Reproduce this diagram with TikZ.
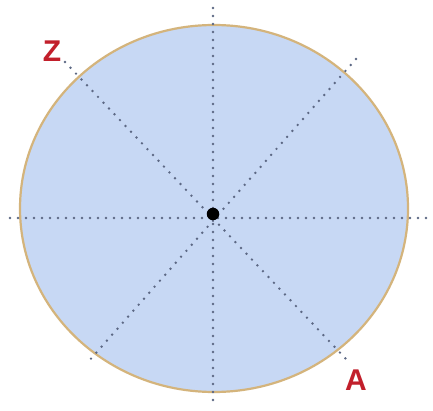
\documentclass[tikz,border=0pt]{standalone}
\usepackage{fontspec}
\setmainfont{Liberation Sans}
\begin{document}
\begin{tikzpicture}[x=1pt,y=-1pt,
  dotline/.style={draw=dotgray, line width=2.7pt, line cap=round, dash pattern=on 0pt off 8pt},
  lbl/.style={text=lblred, font=\fontsize{30}{30}\selectfont\bfseries, inner sep=0pt}]
\definecolor{fillblue}{HTML}{C7D8F4}
\definecolor{rimtan}{HTML}{D4B47C}
\definecolor{dotgray}{HTML}{5C6884}
\definecolor{lblred}{HTML}{C21F2B}
\useasboundingbox (0,0) rectangle (433,411);
\fill[white] (0,0) rectangle (433,411);
% disc
\fill[fillblue] (214,208.5) ellipse [x radius=194, y radius=183.5];
\draw[rimtan, line width=2.2pt] (214,208.5) ellipse [x radius=194, y radius=183.5];
% axes
\coordinate (hl) at (10,218);
\coordinate (hr) at (433,218);
\coordinate (vt) at (213,8);
\coordinate (vb) at (213,407);
\coordinate (zt) at (65,62);
\coordinate (ab) at (346,359);
\coordinate (nt) at (356,59);
\coordinate (sb) at (88,362);
\draw[dotline] (hl) -- (hr);
\draw[dotline] (vt) -- (vb);
\draw[dotline] (zt) -- (ab);
\draw[dotline] (nt) -- (sb);
% centre
\node[circle, fill=black, minimum size=12.5pt, inner sep=0pt] (c) at (213,214) {};
% labels
\node[lbl] (z) at (52,51) {Z};
\node[lbl] (a) at (356,380) {A};
\end{tikzpicture}
\end{document}
